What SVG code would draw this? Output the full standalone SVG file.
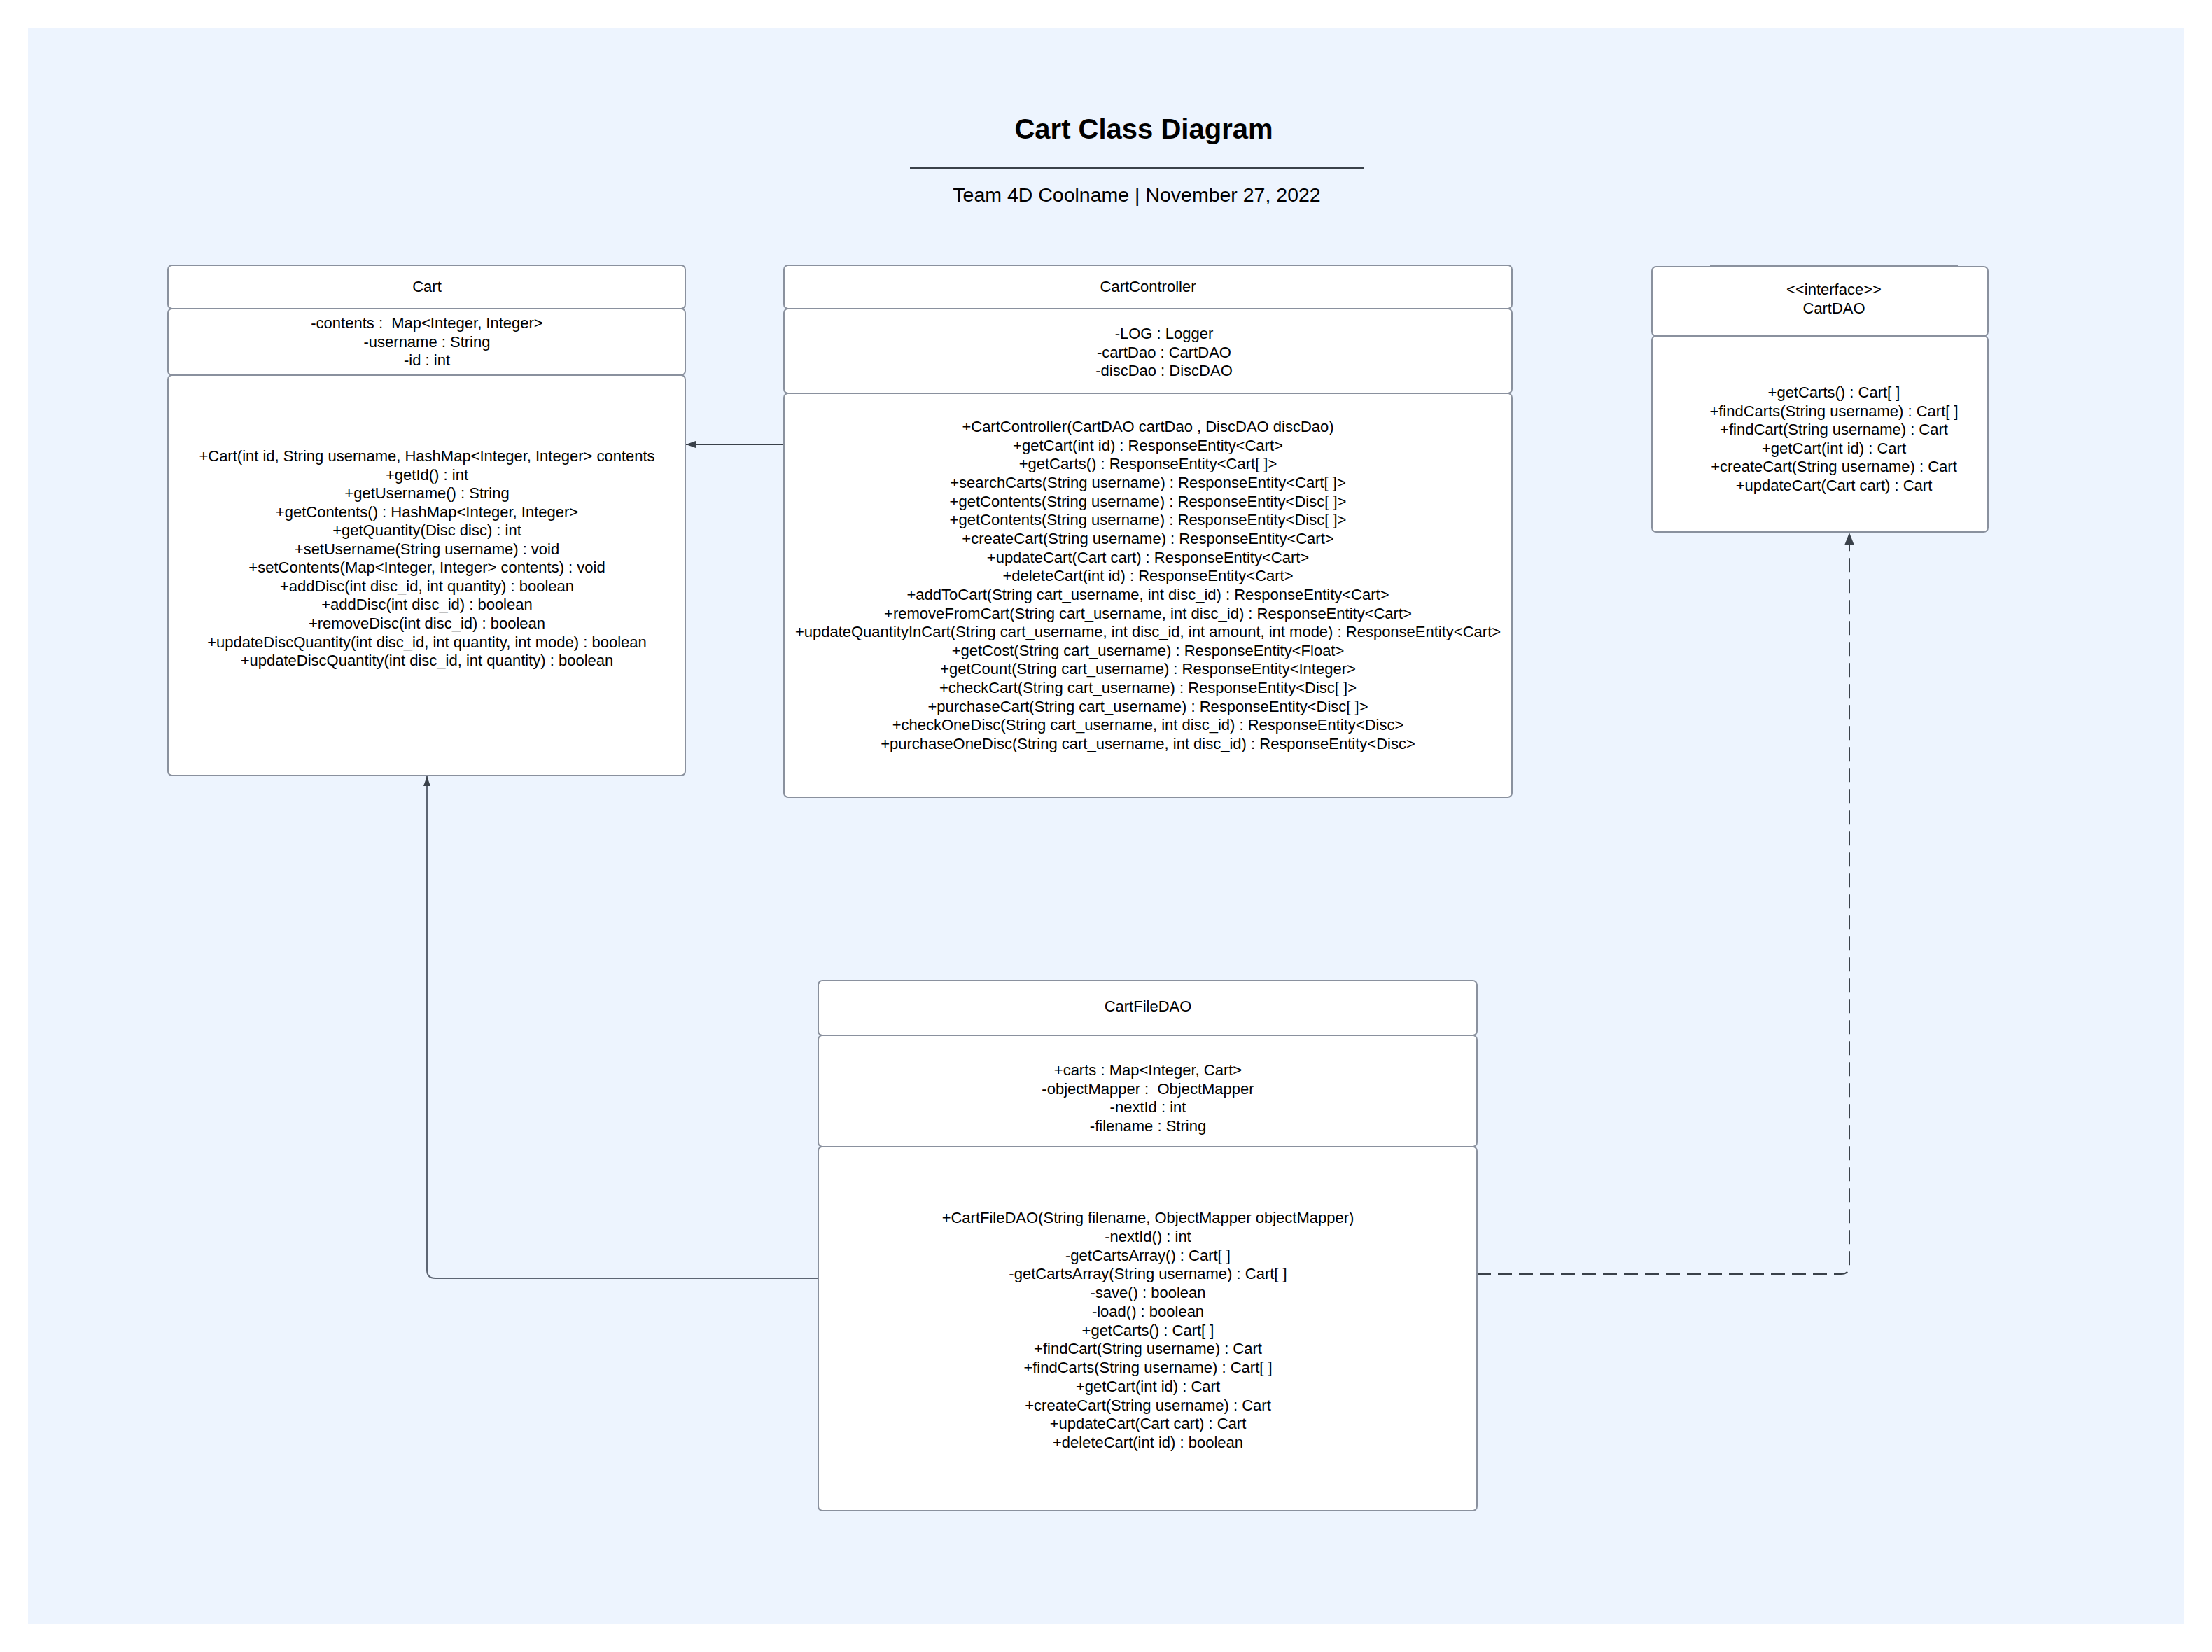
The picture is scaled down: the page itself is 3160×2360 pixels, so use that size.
<svg xmlns="http://www.w3.org/2000/svg" width="3160" height="2360" viewBox="0 0 3160 2360">
<style>
.box{fill:#ffffff;stroke:#8a919e;stroke-width:2}
.t{font-family:"Liberation Sans",Arial,sans-serif;font-size:22px;fill:#000000;text-anchor:middle}
.title{font-family:"Liberation Sans",Arial,sans-serif;font-size:40px;font-weight:bold;fill:#000000;text-anchor:middle}
.sub{font-family:"Liberation Sans",Arial,sans-serif;font-size:28.5px;fill:#000000;text-anchor:middle}
.conn{fill:none;stroke:#3a414a;stroke-width:2}
.light{stroke:#5d6573}
.dash{stroke-dasharray:20 10}
</style>
<defs>
<marker id="arr" viewBox="0 0 14 10" refX="14" refY="5" markerWidth="14" markerHeight="10" markerUnits="userSpaceOnUse" orient="auto">
<path d="M0,0 L14,5 L0,10 Z" fill="#3a414a"/>
</marker>
<marker id="arrBig" viewBox="0 0 18 14" refX="18" refY="7" markerWidth="18" markerHeight="14" markerUnits="userSpaceOnUse" orient="auto">
<path d="M0,0 L18,7 L0,14 Z" fill="#3a414a"/>
</marker>
</defs>
<rect x="40" y="40" width="3080" height="2280" fill="#edf4fe"/>
<g id="title">
<text class="title" x="1634" y="198">Cart Class Diagram</text>
<line x1="1300" y1="240" x2="1949" y2="240" stroke="#3a414a" stroke-width="2"/>
<text class="sub" x="1624" y="288">Team 4D Coolname | November 27, 2022</text>
</g>
<g id="connectors">
<line class="conn" x1="1120" y1="635" x2="980" y2="635" marker-end="url(#arr)"/>
<path class="conn light" d="M1169,1826 L622,1826 Q610,1826 610,1814 L610,1109" marker-end="url(#arr)"/>
<path class="conn dash" d="M2110,1820 L2630,1820 Q2642,1820 2642,1808 L2642,761" marker-end="url(#arrBig)"/>
</g>
<g id="Cart">
<rect class="box" x="240" y="379" width="739" height="62" rx="6"/>
<rect class="box" x="240" y="441" width="739" height="95" rx="6"/>
<rect class="box" x="240" y="536" width="739" height="572" rx="6"/>
<text class="t" x="610" y="417">Cart</text>
<text class="t" x="610" y="469"><tspan x="610">-contents : &#160;Map&lt;Integer, Integer&gt;</tspan><tspan x="610" dy="26.5">-username : String</tspan><tspan x="610" dy="26.5">-id : int</tspan></text>
<text class="t" x="610" y="659"><tspan x="610">+Cart(int id, String username, HashMap&lt;Integer, Integer&gt; contents</tspan><tspan x="610" dy="26.55">+getId() : int</tspan><tspan x="610" dy="26.55">+getUsername() : String</tspan><tspan x="610" dy="26.55">+getContents() : HashMap&lt;Integer, Integer&gt;</tspan><tspan x="610" dy="26.55">+getQuantity(Disc disc) : int</tspan><tspan x="610" dy="26.55">+setUsername(String username) : void</tspan><tspan x="610" dy="26.55">+setContents(Map&lt;Integer, Integer&gt; contents) : void</tspan><tspan x="610" dy="26.55">+addDisc(int disc_id, int quantity) : boolean</tspan><tspan x="610" dy="26.55">+addDisc(int disc_id) : boolean</tspan><tspan x="610" dy="26.55">+removeDisc(int disc_id) : boolean</tspan><tspan x="610" dy="26.55">+updateDiscQuantity(int disc_id, int quantity, int mode) : boolean</tspan><tspan x="610" dy="26.55">+updateDiscQuantity(int disc_id, int quantity) : boolean</tspan></text>
</g>
<g id="CartController">
<rect class="box" x="1120" y="379" width="1040" height="62" rx="6"/>
<rect class="box" x="1120" y="441" width="1040" height="121" rx="6"/>
<rect class="box" x="1120" y="562" width="1040" height="577" rx="6"/>
<text class="t" x="1640" y="417">CartController</text>
<text class="t" x="1663" y="484"><tspan x="1663">-LOG : Logger</tspan><tspan x="1663" dy="26.5">-cartDao : CartDAO</tspan><tspan x="1663" dy="26.5">-discDao : DiscDAO</tspan></text>
<text class="t" x="1640" y="617"><tspan x="1640">+CartController(CartDAO cartDao , DiscDAO discDao)</tspan><tspan x="1640" dy="26.65">+getCart(int id) : ResponseEntity&lt;Cart&gt;</tspan><tspan x="1640" dy="26.65">+getCarts() : ResponseEntity&lt;Cart[ ]&gt;</tspan><tspan x="1640" dy="26.65">+searchCarts(String username) : ResponseEntity&lt;Cart[ ]&gt;</tspan><tspan x="1640" dy="26.65">+getContents(String username) : ResponseEntity&lt;Disc[ ]&gt;</tspan><tspan x="1640" dy="26.65">+getContents(String username) : ResponseEntity&lt;Disc[ ]&gt;</tspan><tspan x="1640" dy="26.65">+createCart(String username) : ResponseEntity&lt;Cart&gt;</tspan><tspan x="1640" dy="26.65">+updateCart(Cart cart) : ResponseEntity&lt;Cart&gt;</tspan><tspan x="1640" dy="26.65">+deleteCart(int id) : ResponseEntity&lt;Cart&gt;</tspan><tspan x="1640" dy="26.65">+addToCart(String cart_username, int disc_id) : ResponseEntity&lt;Cart&gt;</tspan><tspan x="1640" dy="26.65">+removeFromCart(String cart_username, int disc_id) : ResponseEntity&lt;Cart&gt;</tspan><tspan x="1640" dy="26.65">+updateQuantityInCart(String cart_username, int disc_id, int amount, int mode) : ResponseEntity&lt;Cart&gt;</tspan><tspan x="1640" dy="26.65">+getCost(String cart_username) : ResponseEntity&lt;Float&gt;</tspan><tspan x="1640" dy="26.65">+getCount(String cart_username) : ResponseEntity&lt;Integer&gt;</tspan><tspan x="1640" dy="26.65">+checkCart(String cart_username) : ResponseEntity&lt;Disc[ ]&gt;</tspan><tspan x="1640" dy="26.65">+purchaseCart(String cart_username) : ResponseEntity&lt;Disc[ ]&gt;</tspan><tspan x="1640" dy="26.65">+checkOneDisc(String cart_username, int disc_id) : ResponseEntity&lt;Disc&gt;</tspan><tspan x="1640" dy="26.65">+purchaseOneDisc(String cart_username, int disc_id) : ResponseEntity&lt;Disc&gt;</tspan></text>
</g>
<g id="CartDAO">
<line x1="2443" y1="379" x2="2797" y2="379" stroke="#8a919e" stroke-width="2"/>
<rect class="box" x="2360" y="381" width="480" height="99" rx="6"/>
<rect class="box" x="2360" y="480" width="480" height="280" rx="6"/>
<text class="t" x="2620" y="421"><tspan x="2620">&lt;&lt;interface&gt;&gt;</tspan><tspan x="2620" dy="26.5">CartDAO</tspan></text>
<text class="t" x="2620" y="568"><tspan x="2620">+getCarts() : Cart[ ]</tspan><tspan x="2620" dy="26.6">+findCarts(String username) : Cart[ ]</tspan><tspan x="2620" dy="26.6">+findCart(String username) : Cart</tspan><tspan x="2620" dy="26.6">+getCart(int id) : Cart</tspan><tspan x="2620" dy="26.6">+createCart(String username) : Cart</tspan><tspan x="2620" dy="26.6">+updateCart(Cart cart) : Cart</tspan></text>
</g>
<g id="CartFileDAO">
<rect class="box" x="1169" y="1401" width="941" height="78" rx="6"/>
<rect class="box" x="1169" y="1479" width="941" height="159" rx="6"/>
<rect class="box" x="1169" y="1638" width="941" height="520" rx="6"/>
<text class="t" x="1640" y="1445">CartFileDAO</text>
<text class="t" x="1640" y="1536"><tspan x="1640">+carts : Map&lt;Integer, Cart&gt;</tspan><tspan x="1640" dy="26.7">-objectMapper : &#160;ObjectMapper</tspan><tspan x="1640" dy="26.7">-nextId : int</tspan><tspan x="1640" dy="26.7">-filename : String</tspan></text>
<text class="t" x="1640" y="1747"><tspan x="1640">+CartFileDAO(String filename, ObjectMapper objectMapper)</tspan><tspan x="1640" dy="26.75">-nextId() : int</tspan><tspan x="1640" dy="26.75">-getCartsArray() : Cart[ ]</tspan><tspan x="1640" dy="26.75">-getCartsArray(String username) : Cart[ ]</tspan><tspan x="1640" dy="26.75">-save() : boolean</tspan><tspan x="1640" dy="26.75">-load() : boolean</tspan><tspan x="1640" dy="26.75">+getCarts() : Cart[ ]</tspan><tspan x="1640" dy="26.75">+findCart(String username) : Cart</tspan><tspan x="1640" dy="26.75">+findCarts(String username) : Cart[ ]</tspan><tspan x="1640" dy="26.75">+getCart(int id) : Cart</tspan><tspan x="1640" dy="26.75">+createCart(String username) : Cart</tspan><tspan x="1640" dy="26.75">+updateCart(Cart cart) : Cart</tspan><tspan x="1640" dy="26.75">+deleteCart(int id) : boolean</tspan></text>
</g>
</svg>
